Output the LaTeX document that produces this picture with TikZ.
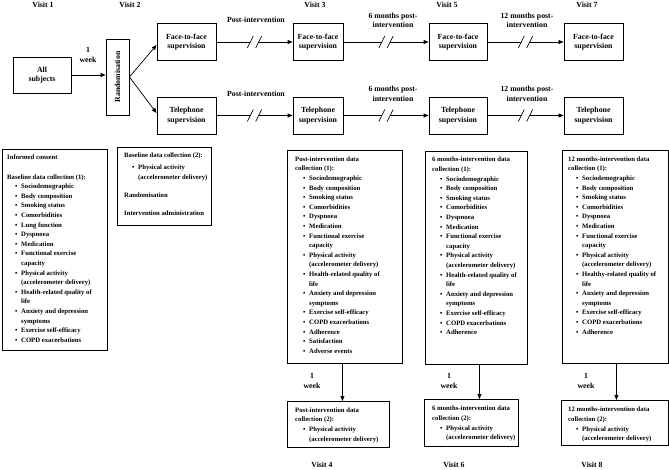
\documentclass[tikz,border=0pt]{standalone}
\usepackage{fontspec}
\setmainfont{Liberation Serif}
\usetikzlibrary{arrows.meta,calc}
\newcommand\bigf{\fontsize{7.8}{9.5}\selectfont\bfseries}
\newcommand\smf{\fontsize{6.7}{9.6}\selectfont\bfseries}
\newcommand\itm[1]{\hspace*{8pt}\makebox[6pt][l]{\textbullet}#1}
\newcommand\cnt[1]{\hspace*{14pt}#1}
\newcommand\brkline[2]{%
 \draw[ln] (#1.east) -- ($(#1.east)!0.5!(#2.west)+(-4.2,0)$);
 \draw[arr] ($(#1.east)!0.5!(#2.west)+(4.2,0)$) -- (#2.west);
 \draw[ln] ($(#1.east)!0.5!(#2.west)+(-7.2,6)$) -- ++(6,-12);
 \draw[ln] ($(#1.east)!0.5!(#2.west)+(1.2,6)$) -- ++(6,-12);
}
\begin{document}
\begin{tikzpicture}[x=1pt,y=-1pt,
 box/.style={draw,fill=white,line width=0.9pt,inner sep=0pt,align=center,font=\bigf},
 dbox/.style={draw,fill=white,line width=0.9pt,inner sep=0pt,anchor=north west},
 lbl/.style={inner sep=0pt,align=center,font=\bigf},
 txt/.style={inner sep=0pt,align=left,font=\smf,anchor=north west},
 arr/.style={line width=0.7pt,-{Triangle[length=5pt,width=4pt]}},
 ln/.style={line width=0.7pt}]
\useasboundingbox (0,0) rectangle (669,470);
% visit headers
\node[lbl] (v1) at (43,5) {Visit 1};
\node[lbl] (v2) at (130,5) {Visit 2};
\node[lbl] (v3) at (315,5) {Visit 3};
\node[lbl] (v5) at (447,5) {Visit 5};
\node[lbl] (v7) at (587,5) {Visit 7};
% top boxes
\node[box,minimum width=58pt,minimum height=36pt] (all) at (42,75) {All\\subjects};
\node[box,minimum width=23pt,minimum height=76pt] (rand) at (117.5,77) {};
\node[lbl,rotate=90] (randt) at (rand.center) {Randomisation};
\node[box,minimum width=59pt,minimum height=37pt] (f2) at (186.5,42) {Face-to-face\\supervision};
\node[box,minimum width=59pt,minimum height=37pt] (t2) at (186.5,115.5) {Telephone\\supervision};
\node[box,minimum width=50pt,minimum height=37pt] (f3) at (318,42) {Face-to-face\\supervision};
\node[box,minimum width=50pt,minimum height=37pt] (t3) at (318,115.5) {Telephone\\supervision};
\node[box,minimum width=58pt,minimum height=37pt] (f5) at (458,42) {Face-to-face\\supervision};
\node[box,minimum width=58pt,minimum height=37pt] (t5) at (458,115.5) {Telephone\\supervision};
\node[box,minimum width=59pt,minimum height=37pt] (f7) at (593.5,42) {Face-to-face\\supervision};
\node[box,minimum width=59pt,minimum height=37pt] (t7) at (593.5,115.5) {Telephone\\supervision};
% labels on top connectors
\node[lbl] (wk0) at (88,55) {1\\week};
\node[lbl] (pi1) at (256,20) {Post-intervention};
\node[lbl] (pi2) at (256,94) {Post-intervention};
\node[lbl] (m61) at (393,20.5) {6 months post-\\intervention};
\node[lbl] (m62) at (393,94) {6 months post-\\intervention};
\node[lbl] (m121) at (527,20.5) {12 months post-\\intervention};
\node[lbl] (m122) at (527,94) {12 months post-\\intervention};
% top connectors
\draw[arr] (all.east) -- (all.east -| rand.west);
\draw[arr] (rand.east) -- ([yshift=-3pt]f2.west);
\draw[arr] (rand.east) -- ([yshift=2.5pt]t2.west);
\brkline{f2}{f3}
\brkline{t2}{t3}
\brkline{f3}{f5}
\brkline{t3}{t5}
\brkline{f5}{f7}
\brkline{t5}{t7}
% data boxes
\node[dbox,minimum width=105pt,minimum height=201pt] (b1) at (2,149) {};
\node[txt] (b1t) at ([xshift=5pt,yshift=-6pt]b1.north west) {Informed consent\\[9.6pt]
Baseline data collection (1):\\
\itm{Sociodemographic}\\ \itm{Body composition}\\ \itm{Smoking status}\\
\itm{Comorbidities}\\ \itm{Lung function}\\ \itm{Dyspnoea}\\ \itm{Medication}\\
\itm{Functional exercise}\\ \cnt{capacity}\\
\itm{Physical activity}\\ \cnt{(accelerometer delivery)}\\
\itm{Health-related quality of}\\ \cnt{life}\\
\itm{Anxiety and depression}\\ \cnt{symptoms}\\
\itm{Exercise self-efficacy}\\ \itm{COPD exacerbations}};

\node[dbox,minimum width=94pt,minimum height=78pt] (b2) at (117,147) {};
\node[txt] (b2t) at ([xshift=7pt,yshift=-6pt]b2.north west) {Baseline data collection (2):\\[2.4pt]
\itm{Physical activity}\\ \cnt{(accelerometer delivery)}\\[8.4pt]
Randomisation\\[8.4pt]
Intervention administration};

\node[dbox,minimum width=115pt,minimum height=213pt] (b3) at (287,150) {};
\node[txt] (b3t) at ([xshift=8pt,yshift=-6.5pt]b3.north west) {Post-intervention data\\ collection (1):\\
\itm{Sociodemographic}\\ \itm{Body composition}\\ \itm{Smoking status}\\
\itm{Comorbidities}\\ \itm{Dyspnoea}\\ \itm{Medication}\\
\itm{Functional exercise}\\ \cnt{capacity}\\
\itm{Physical activity}\\ \cnt{(accelerometer delivery)}\\
\itm{Health-related quality of}\\ \cnt{life}\\
\itm{Anxiety and depression}\\ \cnt{symptoms}\\
\itm{Exercise self-efficacy}\\ \itm{COPD exacerbations}\\
\itm{Adherence}\\ \itm{Satisfaction}\\ \itm{Adverse events}};

\node[dbox,minimum width=102pt,minimum height=213pt] (b5) at (425,151) {};
\node[txt] (b5t) at ([xshift=7pt,yshift=-6pt]b5.north west) {6 months-intervention data\\ collection (1):\\
\itm{Sociodemographic}\\ \itm{Body composition}\\ \itm{Smoking status}\\
\itm{Comorbidities}\\ \itm{Dyspnoea}\\ \itm{Medication}\\
\itm{Functional exercise}\\ \cnt{capacity}\\
\itm{Physical activity}\\ \cnt{(accelerometer delivery)}\\
\itm{Health-related quality of}\\ \cnt{life}\\
\itm{Anxiety and depression}\\ \cnt{symptoms}\\
\itm{Exercise self-efficacy}\\ \itm{COPD exacerbations}\\
\itm{Adherence}};

\node[dbox,minimum width=106pt,minimum height=213pt] (b7) at (562,150) {};
\node[txt] (b7t) at ([xshift=6pt,yshift=-6.5pt]b7.north west) {12 months-intervention data\\ collection (1):\\
\itm{Sociodemographic}\\ \itm{Body composition}\\ \itm{Smoking status}\\
\itm{Comorbidities}\\ \itm{Dyspnoea}\\ \itm{Medication}\\
\itm{Functional exercise}\\ \cnt{capacity}\\
\itm{Physical activity}\\ \cnt{(accelerometer delivery)}\\
\itm{Healthy-related quality of}\\ \cnt{life}\\
\itm{Anxiety and depression}\\ \cnt{symptoms}\\
\itm{Exercise self-efficacy}\\ \itm{COPD exacerbations}\\
\itm{Adherence}};

% second data boxes
\node[dbox,minimum width=102pt,minimum height=46pt] (b3b) at (287,401) {};
\node[txt] (b3bt) at ([xshift=8pt,yshift=-6.5pt]b3b.north west) {Post-intervention data\\ collection (2):\\
\itm{Physical activity}\\ \cnt{(accelerometer delivery)}};
\node[dbox,minimum width=94pt,minimum height=47pt] (b5b) at (424,399) {};
\node[txt] (b5bt) at ([xshift=8pt,yshift=-7pt]b5b.north west) {6 months-intervention data\\ collection (2):\\
\itm{Physical activity}\\ \cnt{(accelerometer delivery)}};
\node[dbox,minimum width=107pt,minimum height=45pt] (b7b) at (561,400) {};
\node[txt] (b7bt) at ([xshift=7pt,yshift=-7pt]b7b.north west) {12 months-intervention data\\ collection (2):\\
\itm{Physical activity}\\ \cnt{(accelerometer delivery)}};
% vertical arrows
\draw[arr] ([xshift=-2.5pt]b3.south) -- ([xshift=-2.5pt]b3.south |- b3b.north);
\draw[arr] ([xshift=3pt]b5.south) -- ([xshift=3pt]b5.south |- b5b.north);
\draw[arr] ([xshift=1pt]b7.south) -- ([xshift=1pt]b7.south |- b7b.north);
\node[lbl] (wk3) at (312,381) {1\\week};
\node[lbl] (wk5) at (449,381) {1\\week};
\node[lbl] (wk7) at (586,381) {1\\week};
% bottom visit labels
\node[lbl] (v4) at (322,465) {Visit 4};
\node[lbl] (v6) at (454,465) {Visit 6};
\node[lbl] (v8) at (592,465) {Visit 8};
\end{tikzpicture}
\end{document}
